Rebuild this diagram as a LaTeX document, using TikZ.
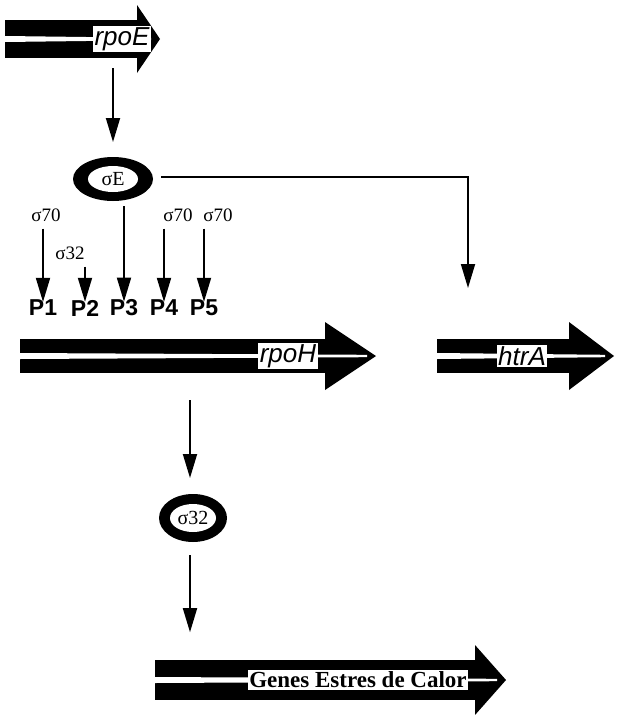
\documentclass[tikz,border=0pt]{standalone}
\usepackage{fontspec}
\setmainfont{Liberation Serif}
\newfontfamily\arialf{Liberation Sans}
\usetikzlibrary{arrows.meta,shapes.geometric}
\tikzset{
  arr/.style={-{Triangle[length=24pt,width=14pt]}, line width=1.8pt},
  sig/.style={font=\fontsize{19}{19}\selectfont, inner sep=0pt},
  plbl/.style={font=\arialf\bfseries\fontsize{23}{23}\selectfont, inner sep=0pt},
  genelbl/.style={fill=white, inner sep=1.5pt, font=\arialf\itshape\fontsize{26}{26}\selectfont},
  genesbig/.style={fill=white, inner sep=1.5pt, font=\bfseries\fontsize{23}{23}\selectfont},
  sigell/.style={ellipse, fill=black, inner sep=0pt},
  sigin/.style={ellipse, fill=white, inner sep=0pt, font=\fontsize{20}{20}\selectfont},
}
% #1 x0, #2 head base, #3 tip, #4 ymid, #5 band half height, #6 head half height
\newcommand\genebody[6]{%
  \fill (#1,#4-#5) rectangle (#2,#4+#5);
  \fill (#2-3,#4-#6) -- (#3,#4) -- (#2-3,#4+#6) -- cycle;
  \fill[white] (#1,#4-3) -- (#3-9,#4-1.2) -- (#3-9,#4+1.2) -- (#1,#4+3) -- cycle;
}
\begin{document}
\begin{tikzpicture}[x=1pt,y=-1pt]
\useasboundingbox (0,0) rectangle (616,715);
% genes
\genebody{5}{140}{160}{39}{19}{34}
\node[genelbl] (rpoE) at (122,39) {rpoE};
\genebody{20}{328}{376}{356}{17}{34}
\node[genelbl] (rpoH) at (288,356) {rpoH};
\genebody{437}{572}{614}{356}{17}{34}
\node[genelbl] (htrA) at (522,356) {htrA};
\genebody{155}{478}{506}{680}{20}{35}
\node[genesbig] (genes) at (358,680) {Genes Estres de Calor};
% sigma factors
\node[sigell, minimum width=80pt, minimum height=44pt] (sE) at (113,179) {};
\node[sigin, minimum width=50pt, minimum height=26pt] (sEt) at (sE) {σE};
\node[sigell, minimum width=68pt, minimum height=48pt] (s32) at (193,518) {};
\node[sigin, minimum width=46pt, minimum height=28pt] (s32t) at (s32) {σ32};
% promoter labels
\node[plbl] (P1) at (43,308) {P1};
\node[plbl] (P2) at (85,308) {P2};
\node[plbl] (P3) at (124,308) {P3};
\node[plbl] (P4) at (164,308) {P4};
\node[plbl] (P5) at (204,308) {P5};
\node[sig] (s70a) at (46,215) {σ70};
\node[sig] (s32a) at (70,253) {σ32};
\node[sig] (s70b) at (178,215) {σ70};
\node[sig] (s70c) at (218,215) {σ70};
% connectors
\coordinate (c1) at (113,68);
\coordinate (c2) at (113,142);
\draw[arr] (c1) -- (c2);
\draw[arr] (s70a.south -| P1) ++(0,7) -- ([yshift=-2pt]P1.north);
\draw[arr] (s32a.south -| P2) ++(0,7) -- ([yshift=-2pt]P2.north);
\draw[arr] (sE.south -| P3.north) ++(0,5) -- ([yshift=-2pt]P3.north);
\draw[arr] (s70b.south -| P4) ++(0,7) -- ([yshift=-2pt]P4.north);
\draw[arr] (s70c.south -| P5) ++(0,7) -- ([yshift=-2pt]P5.north);
\coordinate (corner) at (468,177);
\coordinate (hend) at (468,288);
\draw[arr] (sE.east) ++(8,-2) -- (corner) -- (hend);
\coordinate (d1) at (190,400);
\coordinate (d2) at (190,478);
\draw[arr] (d1) -- (d2);
\draw[arr] (s32.south -| d1) ++(0,13) -- ++(0,77);
\end{tikzpicture}
\end{document}
